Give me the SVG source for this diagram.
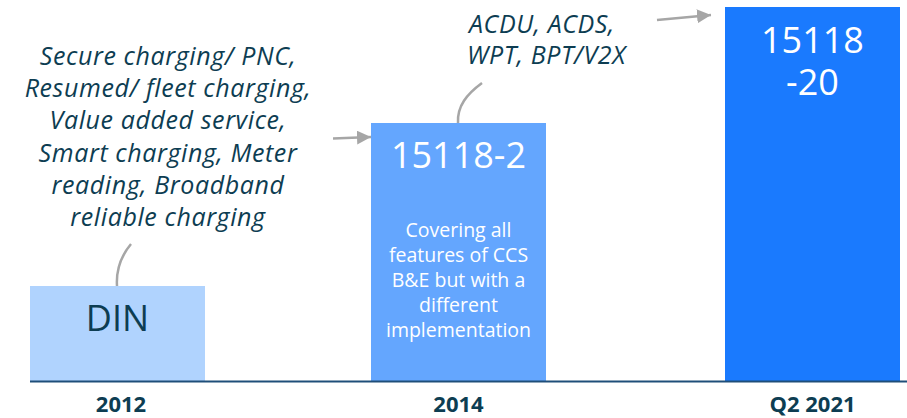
<svg xmlns="http://www.w3.org/2000/svg" width="907" height="418" viewBox="0 0 907 418">
<style>
.note{font-family:"Open Sans","Noto Sans",sans-serif;font-style:italic;font-size:25px;letter-spacing:0.6px;fill:#0D3D52}
.big{font-family:"Open Sans","Noto Sans",sans-serif;font-size:36px;text-anchor:middle}
.small{font-family:"Open Sans","Noto Sans",sans-serif;font-size:19.5px;fill:#FFFFFF;text-anchor:middle}
.year{font-family:"Open Sans","Noto Sans",sans-serif;font-weight:bold;font-size:22px;fill:#0D3D52;text-anchor:middle}
.conn{fill:none;stroke:#A6A6A6;stroke-width:2.5}
</style>
<defs>
<marker id="ah" markerUnits="userSpaceOnUse" markerWidth="15" markerHeight="15" refX="14" refY="7" orient="auto">
<path d="M0,0 L14,7 L0,14 z" fill="#A6A6A6"/>
</marker>
</defs>
<rect width="907" height="418" fill="#FFFFFF"/>
<g id="din">
<rect x="30" y="286" width="175" height="95" fill="#B0D3FE"/>
<text class="big" x="117.5" y="331" fill="#0D3D52">DIN</text>
</g>
<g id="iso15118-2">
<rect x="371" y="123" width="175" height="258" fill="#64A6FE"/>
<text class="big" x="458.5" y="168" fill="#FFFFFF">15118-2</text>
<text class="small"><tspan x="458.5" y="237">Covering all</tspan><tspan x="458.5" y="262">features of CCS</tspan><tspan x="458.5" y="287">B&amp;E but with a</tspan><tspan x="458.5" y="312">different</tspan><tspan x="458.5" y="337">implementation</tspan></text>
</g>
<g id="iso15118-20">
<rect x="725" y="7" width="175" height="374" fill="#1A7AFE"/>
<text class="big" fill="#FFFFFF"><tspan x="812.5" y="53">15118</tspan><tspan x="812.5" y="95">-20</tspan></text>
</g>
<g id="note-left">
<text class="note" text-anchor="middle"><tspan x="168" y="65">Secure charging/ PNC,</tspan><tspan x="168" y="97">Resumed/ fleet charging,</tspan><tspan x="168" y="129">Value added service,</tspan><tspan x="168" y="162">Smart charging, Meter</tspan><tspan x="168" y="194">reading, Broadband</tspan><tspan x="168" y="226">reliable charging</tspan></text>
</g>
<g id="note-top">
<text class="note"><tspan x="469" y="33">ACDU, ACDS,</tspan><tspan x="467" y="64">WPT, BPT/V2X</tspan></text>
</g>
<g id="axis">
<line x1="30" y1="381.5" x2="907" y2="381.5" stroke="#1F4E79" stroke-width="2"/>
<text class="year" x="121" y="412">2012</text>
<text class="year" x="458.5" y="412">2014</text>
<text class="year" x="812.5" y="412">Q2 2021</text>
</g>
<g id="connectors">
<path class="conn" d="M117,286 C116,270 121,256 131,244"/>
<path class="conn" d="M458,123 C457,106 467,94 482,83"/>
<line class="conn" x1="333" y1="138.5" x2="371" y2="137" marker-end="url(#ah)"/>
<line class="conn" x1="657" y1="20" x2="711" y2="15" marker-end="url(#ah)"/>
</g>
</svg>
